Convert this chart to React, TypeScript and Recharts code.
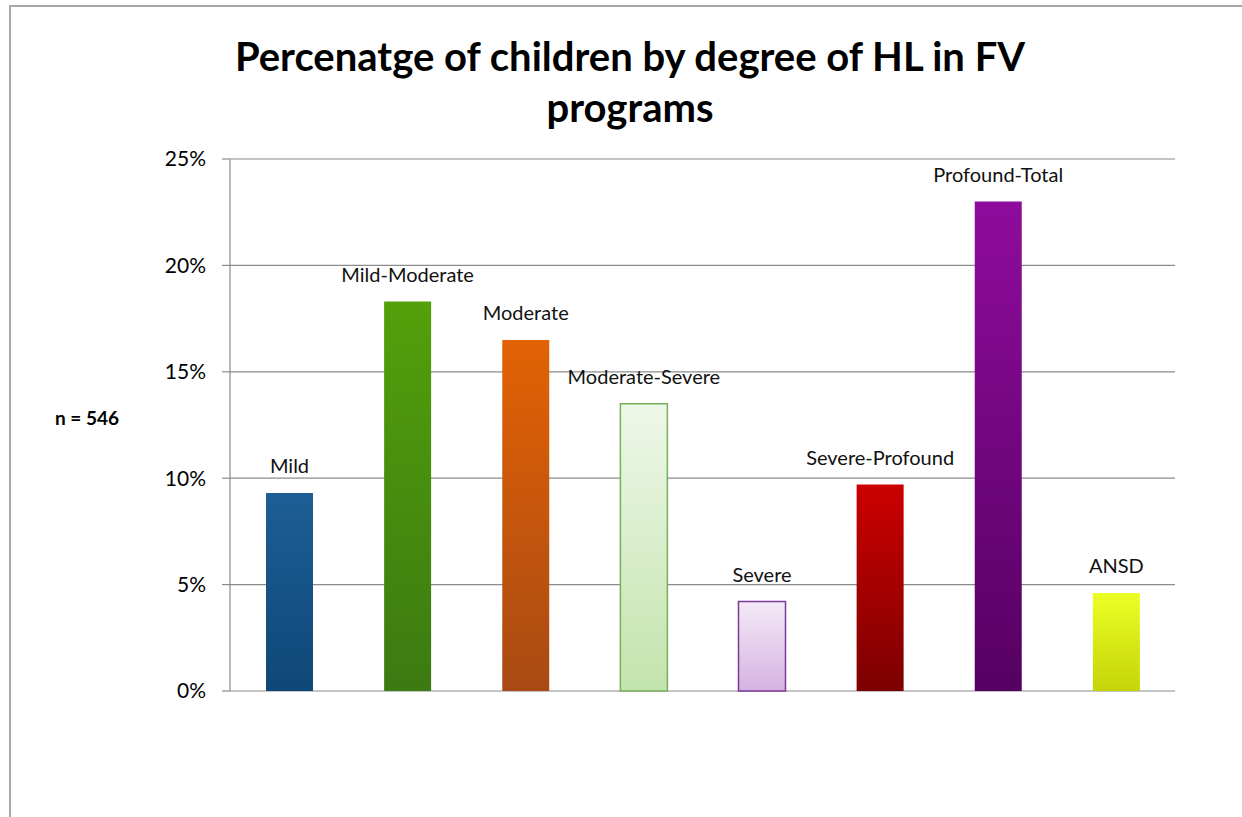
import { BarChart, Bar, XAxis, YAxis, CartesianGrid, Cell, LabelList } from 'recharts';

const categories = ['Mild', 'Mild-Moderate', 'Moderate', 'Moderate-Severe', 'Severe', 'Severe-Profound', 'Profound-Total', 'ANSD'];
const percentages = [9.3, 18.3, 16.5, 13.5, 4.2, 9.7, 23.0, 4.6];
const yTicks = [0, 5, 10, 15, 20, 25];

// top colour, bottom colour, outline
const barColors: [string, string, string][] = [
  ['#1d5e96', '#0f4777', 'none'],
  ['#52a00a', '#3c7a12', 'none'],
  ['#e26204', '#a94a14', 'none'],
  ['#eef7e8', '#c2e4ad', '#78b058'],
  ['#f4eaf7', '#d6b2e2', '#7d3b98'],
  ['#cc0000', '#7c0000', 'none'],
  ['#8e0c9c', '#560062', 'none'],
  ['#ecff24', '#c4d408', 'none'],
];

const data = categories.map((name, i) => ({ name, value: percentages[i] }));

const font = 'Lato, "Open Sans", sans-serif';

function BarLabel(props: any) {
  const { x, y, width, value } = props;
  return (
    <text x={x + width / 2} y={y - 20} textAnchor="middle" fontFamily={font} fontSize={20} fill="#111">
      {value}
    </text>
  );
}

export default function App() {
  return (
    <div style={{ position: 'absolute', left: 0, top: 0, width: 1242, height: 817, background: '#fff', overflow: 'hidden' }}>
      <div style={{ position: 'absolute', left: 9, top: 5, width: 1250, height: 830, borderLeft: '2px solid #a8a8a8', borderTop: '2px solid #a8a8a8' }} />
      <div style={{ position: 'absolute', left: 0, top: 31, width: 1260, textAlign: 'center', fontFamily: font, fontWeight: 700, fontSize: 40, lineHeight: '51px', color: '#000' }}>
        Percenatge of children by degree of HL in FV<br />programs
      </div>
      <div style={{ position: 'absolute', left: 55, top: 406, fontFamily: font, fontWeight: 700, fontSize: 19, color: '#000' }}>
        n = 546
      </div>
      <div style={{ position: 'absolute', left: 0, top: 0 }}>
        <BarChart width={1242} height={817} data={data} margin={{ top: 159, right: 67, bottom: 126, left: 0 }}>
          <defs>
            {barColors.map((c, i) => (
              <linearGradient key={i} id={`bar${i}`} x1="0" y1="0" x2="0" y2="1">
                <stop offset="0%" stopColor={c[0]} />
                <stop offset="100%" stopColor={c[1]} />
              </linearGradient>
            ))}
          </defs>
          <CartesianGrid vertical={false} stroke="#8c8c8c" strokeWidth={1.2} />
          <XAxis dataKey="name" hide />
          <YAxis
            width={230}
            domain={[0, 25]}
            ticks={yTicks}
            tickFormatter={(v: number) => `${v}%`}
            axisLine={{ stroke: '#8c8c8c', strokeWidth: 1.2 }}
            tickLine={{ stroke: '#8c8c8c', strokeWidth: 1.2 }}
            tickSize={8}
            tickMargin={16}
            tick={{ fill: '#000', fontSize: 21, fontFamily: font }}
          />
          <Bar dataKey="value" barSize={47} isAnimationActive={false}>
            {data.map((d, i) => (
              <Cell
                key={d.name}
                fill={`url(#bar${i})`}
                stroke={barColors[i][2]}
                strokeWidth={barColors[i][2] === 'none' ? 0 : 1.5}
              />
            ))}
            <LabelList dataKey="name" content={BarLabel} />
          </Bar>
        </BarChart>
      </div>
    </div>
  );
}
